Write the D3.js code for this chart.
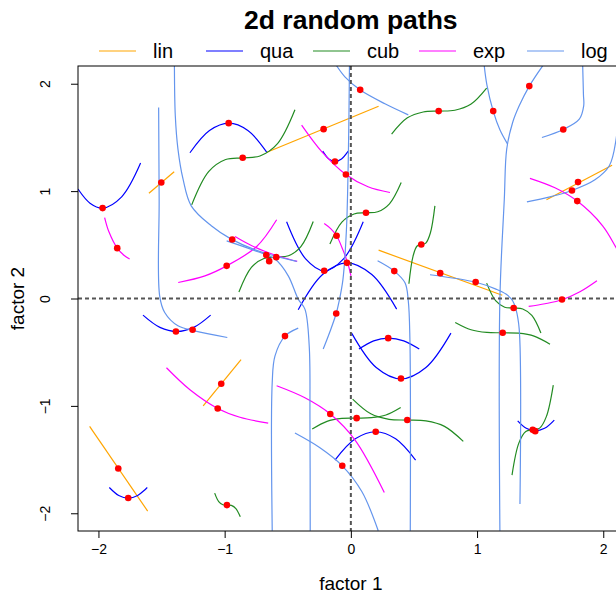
<!DOCTYPE html>
<html>
<head>
<meta charset="utf-8">
<script src="https://cdn.jsdelivr.net/npm/d3@7"></script>
<style>
  body { margin: 0; background: #fff; }
  svg { display: block; font-family: "Liberation Sans", Arial, sans-serif; }
</style>
</head>
<body>
<svg id="chart" width="616" height="594"></svg>
<script>
// DATA (in data units)
const seriesNames = ["lin", "qua", "cub", "exp", "log"];
const xTicks = [-2, -1, 0, 1, 2];
const yTicks = [-2, -1, 0, 1, 2];

const linPaths = [
  [[-1.60, 0.98], [-1.40, 1.18]],
  [[-0.67, 1.36], [0.22, 1.79]],
  [[0.22, 0.45], [1.20, 0.03]],
  [[1.55, 0.92], [2.07, 1.24]],
  [[-1.17, -1.00], [-0.87, -0.57]],
  [[-2.07, -1.19], [-1.61, -1.98]]
];

const quaPaths = [
  [[-2.162, 1.019], [-2.067, 0.888], [-1.967, 0.842], [-1.816, 0.947], [-1.666, 1.261]],
  [[-1.275, 1.357], [-1.120, 1.564], [-0.966, 1.633], [-0.816, 1.565], [-0.667, 1.363]],
  [[-0.223, 1.372], [-0.175, 1.300], [-0.126, 1.276], [-0.074, 1.300], [-0.021, 1.372]],
  [[-0.509, 0.714], [-0.360, 0.372], [-0.211, 0.258], [-0.056, 0.372], [0.098, 0.714]],
  [[-0.417, -0.105], [-0.224, 0.223], [-0.031, 0.332], [0.166, 0.223], [0.363, -0.099]],
  [[0.064, -0.471], [0.181, -0.394], [0.296, -0.369], [0.419, -0.394], [0.542, -0.471]],
  [[0.006, -0.322], [0.201, -0.642], [0.397, -0.748], [0.595, -0.642], [0.793, -0.322]],
  [[-0.126, -1.505], [0.035, -1.307], [0.197, -1.241], [0.355, -1.307], [0.513, -1.505]],
  [[-1.914, -1.760], [-1.839, -1.834], [-1.764, -1.858], [-1.689, -1.834], [-1.613, -1.760]],
  [[-1.647, -0.155], [-1.513, -0.269], [-1.379, -0.307], [-1.245, -0.269], [-1.111, -0.155]],
  [[1.322, -1.139], [1.390, -1.209], [1.459, -1.232], [1.535, -1.209], [1.612, -1.132]]
];

const cubPaths = [
  [[-1.261, 0.872], [-1.127, 1.181], [-0.992, 1.294], [-0.857, 1.310], [-0.720, 1.327], [-0.581, 1.442], [-0.443, 1.757]],
  [[0.323, 1.531], [0.448, 1.682], [0.573, 1.737], [0.698, 1.745], [0.824, 1.753], [0.950, 1.808], [1.076, 1.959]],
  [[-0.166, 0.507], [-0.071, 0.711], [0.025, 0.787], [0.120, 0.798], [0.213, 0.808], [0.306, 0.882], [0.399, 1.080]],
  [[-0.887, 0.060], [-0.788, 0.289], [-0.689, 0.373], [-0.591, 0.385], [-0.494, 0.398], [-0.396, 0.483], [-0.298, 0.717]],
  [[0.460, 0.137], [0.493, 0.395], [0.525, 0.489], [0.558, 0.503], [0.594, 0.516], [0.630, 0.610], [0.666, 0.863]],
  [[-1.079, -1.812], [-1.047, -1.891], [-1.014, -1.920], [-0.982, -1.924], [-0.947, -1.927], [-0.911, -1.956], [-0.876, -2.033]],
  [[0.014, -0.937], [0.158, -1.074], [0.303, -1.125], [0.447, -1.132], [0.595, -1.140], [0.742, -1.191], [0.891, -1.331]],
  [[-0.306, -1.216], [-0.189, -1.144], [-0.071, -1.117], [0.046, -1.114], [0.162, -1.110], [0.278, -1.085], [0.395, -1.015]],
  [[1.076, 0.143], [1.147, -0.020], [1.219, -0.081], [1.290, -0.089], [1.362, -0.098], [1.434, -0.158], [1.506, -0.322]],
  [[0.827, -0.223], [0.952, -0.291], [1.078, -0.316], [1.203, -0.319], [1.328, -0.323], [1.452, -0.350], [1.578, -0.425]],
  [[1.277, -1.644], [1.331, -1.347], [1.386, -1.238], [1.441, -1.223], [1.496, -1.207], [1.549, -1.100], [1.604, -0.806]]
];

const expPaths = [
  [[-1.951, 0.754], [-1.917, 0.621], [-1.851, 0.469], [-1.798, 0.402], [-1.753, 0.367]],
  [[-1.368, 0.149], [-1.156, 0.211], [-0.984, 0.304], [-0.746, 0.484], [-0.588, 0.733]],
  [[-0.918, 0.577], [-0.800, 0.500], [-0.673, 0.435], [-0.546, 0.384], [-0.425, 0.345]],
  [[-0.390, 1.615], [-0.229, 1.366], [-0.039, 1.155], [0.136, 1.040], [0.310, 0.987]],
  [[-0.211, 0.698], [-0.158, 0.649], [-0.113, 0.584], [-0.063, 0.453], [-0.023, 0.323], [0.001, 0.211]],
  [[1.419, 1.119], [1.617, 1.031], [1.794, 0.907], [1.995, 0.677], [2.101, 0.475], [2.164, 0.342]],
  [[1.409, -0.074], [1.538, -0.049], [1.673, -0.012], [1.815, 0.062], [1.950, 0.165]],
  [[-1.461, -0.645], [-1.275, -0.850], [-1.055, -1.024], [-0.879, -1.106], [-0.655, -1.160]],
  [[-0.588, -0.813], [-0.364, -0.925], [-0.163, -1.076], [0.032, -1.316], [0.265, -1.806]]
];

const logPaths = [
  [[-1.523, 1.778], [-1.519, 0.919], [-1.515, 0.025], [-1.475, -0.130], [-1.370, -0.254], [-1.238, -0.301], [-0.979, -0.363]],
  [[-1.398, 2.167], [-1.391, 1.701], [-1.370, 1.391], [-1.330, 1.113], [-1.265, 0.863], [-1.106, 0.677], [-0.948, 0.553], [-0.736, 0.444], [-0.429, 0.345]],
  [[-0.322, -2.163], [-0.324, -1.133], [-0.330, -0.440], [-0.364, -0.099], [-0.417, -0.006], [-0.496, 0.211], [-0.601, 0.367], [-0.736, 0.435], [-0.984, 0.537]],
  [[-0.417, -0.276], [-0.522, -0.350], [-0.601, -0.534], [-0.623, -0.782], [-0.623, -2.163]],
  [[-0.113, 2.167], [-0.047, 2.064], [0.072, 1.943], [0.270, 1.813], [0.455, 1.710]],
  [[-0.011, 2.167], [-0.019, 1.385], [-0.035, 0.640], [-0.063, 0.174], [-0.094, -0.031], [-0.116, -0.140], [-0.166, -0.310], [-0.219, -0.471]],
  [[1.057, 2.167], [1.078, 1.990], [1.128, 1.745], [1.181, 1.571], [1.242, 1.438]],
  [[1.520, 2.167], [1.414, 1.978], [1.334, 1.794], [1.282, 1.639], [1.235, 1.391], [1.216, 0.926], [1.181, -0.006], [1.181, -2.163]],
  [[1.837, 2.167], [1.843, 1.900], [1.845, 1.794], [1.810, 1.670], [1.683, 1.574], [1.514, 1.499]],
  [[1.395, 0.900], [1.578, 0.947], [1.752, 1.006], [1.934, 1.105], [2.048, 1.236], [2.101, 1.478], [2.125, 1.850], [2.132, 2.167]],
  [[0.627, 0.221], [0.991, 0.151], [1.150, 0.087], [1.229, 0.041], [1.282, -0.021], [1.308, -0.099], [1.334, -0.285], [1.340, -1.914]],
  [[-0.443, -1.253], [-0.245, -1.390], [-0.068, -1.558], [0.088, -1.800], [0.217, -2.163]],
  [[0.212, 0.351], [0.344, 0.255], [0.429, 0.146], [0.455, -0.021], [0.468, -0.385], [0.471, -2.163]]
];

const dots = [
  [-0.968, 1.633], [-0.857, 1.310], [-1.967, 0.842], [-1.502, 1.080], [-1.851, 0.469],
  [-0.940, 0.549], [-0.984, 0.304], [0.074, 1.943], [-0.216, 1.577], [-0.126, 1.276],
  [-0.039, 1.155], [0.696, 1.745], [0.120, 0.798], [-0.113, 0.584], [-0.670, 0.404],
  [-0.591, 0.385], [-0.647, 0.348], [-0.211, 0.258], [-0.031, 0.332], [0.558, 0.503],
  [0.344, 0.255], [0.708, 0.236], [1.128, 1.745], [1.414, 1.978], [1.683, 1.574],
  [1.800, 1.084], [1.752, 1.006], [1.794, 0.907], [0.989, 0.153], [1.673, -0.009],
  [-1.386, -0.307], [-1.254, -0.291], [-1.027, -0.794], [-1.055, -1.024], [-1.843, -1.583],
  [-1.764, -1.858], [-0.982, -1.924], [-0.116, -0.140], [-0.522, -0.350], [0.296, -0.369],
  [0.397, -0.745], [-0.163, -1.076], [0.046, -1.114], [0.447, -1.132], [0.197, -1.241],
  [-0.068, -1.558], [1.290, -0.089], [1.203, -0.319], [1.441, -1.223], [1.461, -1.235]
];

// STYLE
const seriesColors = ["orange", "blue", "forestgreen", "magenta", "cornflowerblue"];

//SETUP
const svg = d3.select("#chart");
const plot = { left: 78, right: 623.7, top: 66, bottom: 531 };

const xScale = d3.scaleLinear()
  .domain([-2.162, 2.162])
  .range([plot.left, plot.right]);

const yScale = d3.scaleLinear()
  .domain([-2.165, 2.165])
  .range([plot.bottom, plot.top]);

svg.append("defs")
  .append("clipPath")
  .attr("id", "plot-clip")
  .append("rect")
  .attr("x", plot.left)
  .attr("y", plot.top)
  .attr("width", plot.right - plot.left)
  .attr("height", plot.bottom - plot.top);

// Title
svg.append("text")
  .attr("x", xScale(0))
  .attr("y", 29)
  .attr("text-anchor", "middle")
  .attr("font-size", "26.5px")
  .attr("font-weight", "bold")
  .text("2d random paths");

// Legend
const legendLineX = [99, 206, 313, 419, 527];
const legend = svg.append("g").attr("class", "legend");
seriesNames.forEach((name, i) => {
  legend.append("line")
    .attr("x1", legendLineX[i])
    .attr("x2", legendLineX[i] + 37)
    .attr("y1", 51)
    .attr("y2", 51)
    .attr("stroke", seriesColors[i])
    .attr("stroke-width", 1.2);
  legend.append("text")
    .attr("x", legendLineX[i] + 54)
    .attr("y", 58)
    .attr("font-size", "20px")
    .text(name);
});

// Axes
const xAxis = d3.axisBottom(xScale)
  .tickValues(xTicks)
  .tickFormat(d3.format("d"))
  .tickSize(7)
  .tickPadding(6);
svg.append("g")
  .attr("class", "x-axis")
  .attr("transform", `translate(0,${plot.bottom})`)
  .call(xAxis)
  .call(g => g.select(".domain").remove())
  .selectAll("text")
  .attr("font-size", "14px")
  .attr("font-family", "Liberation Sans, Arial, sans-serif")
  .attr("fill", "#000");

const yAxis = d3.axisLeft(yScale)
  .tickValues(yTicks)
  .tickFormat(d3.format("d"))
  .tickSize(7);
svg.append("g")
  .attr("class", "y-axis")
  .attr("transform", `translate(${plot.left},0)`)
  .call(yAxis)
  .call(g => g.select(".domain").remove())
  .selectAll("text")
  .attr("transform", "rotate(-90)")
  .attr("x", 0)
  .attr("y", -33)
  .attr("dy", "0.35em")
  .attr("text-anchor", "middle")
  .attr("font-size", "14px")
  .attr("font-family", "Liberation Sans, Arial, sans-serif")
  .attr("fill", "#000");

svg.selectAll(".tick line").attr("stroke", "#000");

svg.append("text")
  .attr("x", xScale(0))
  .attr("y", 590)
  .attr("text-anchor", "middle")
  .attr("font-size", "19px")
  .text("factor 1");

svg.append("text")
  .attr("transform", `translate(24,${yScale(0)}) rotate(-90)`)
  .attr("text-anchor", "middle")
  .attr("font-size", "19px")
  .text("factor 2");

// Paths
const area = svg.append("g").attr("clip-path", "url(#plot-clip)");
const line = d3.line()
  .x(d => xScale(d[0]))
  .y(d => yScale(d[1]))
  .curve(d3.curveCatmullRom.alpha(0.5));

[linPaths, quaPaths, cubPaths, expPaths, logPaths].forEach((paths, i) => {
  area.selectAll(".path-" + seriesNames[i])
    .data(paths)
    .enter()
    .append("path")
    .attr("class", "path-" + seriesNames[i])
    .attr("d", line)
    .attr("fill", "none")
    .attr("stroke", seriesColors[i])
    .attr("stroke-width", 1.2);
});

// zero lines
area.append("line")
  .attr("x1", xScale(0)).attr("x2", xScale(0))
  .attr("y1", plot.top).attr("y2", plot.bottom)
  .attr("stroke", "#555")
  .attr("stroke-width", 2)
  .attr("stroke-dasharray", "4,3");
area.append("line")
  .attr("x1", plot.left).attr("x2", plot.right)
  .attr("y1", yScale(0)).attr("y2", yScale(0))
  .attr("stroke", "#555")
  .attr("stroke-width", 2)
  .attr("stroke-dasharray", "4,3");

area.selectAll(".dot")
  .data(dots)
  .enter()
  .append("circle")
  .attr("class", "dot")
  .attr("cx", d => xScale(d[0]))
  .attr("cy", d => yScale(d[1]))
  .attr("r", 3.3)
  .attr("fill", "red");

// box
svg.append("rect")
  .attr("x", plot.left)
  .attr("y", plot.top)
  .attr("width", plot.right - plot.left)
  .attr("height", plot.bottom - plot.top)
  .attr("fill", "none")
  .attr("stroke", "#000")
  .attr("stroke-width", 1);
</script>
</body>
</html>
